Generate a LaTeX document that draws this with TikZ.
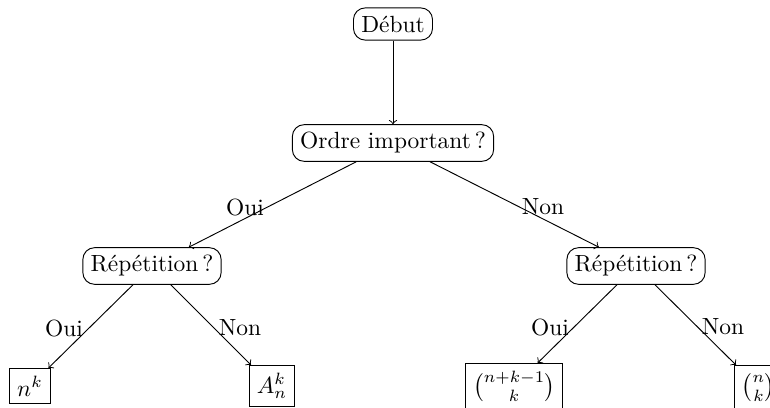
\documentclass[tikz,border=0pt]{standalone}
\usepackage{amsmath}
\begin{document}
\begin{tikzpicture}[x=0.427pt,y=-0.427pt,
  decision/.style={draw,rounded corners=5pt,inner sep=3.33pt},
  leaf/.style={draw,inner sep=3.33pt,anchor=north},
  lbl/.style={inner sep=0pt},
  edge/.style={->}]
\useasboundingbox (0,0) rectangle (770,407);
\clip (0,0) rectangle (770,407);
\node[decision] (debut) at (393,24) {Début};
\node[decision] (ordre) at (393,143) {Ordre important\,?};
\node[decision] (repL) at (152,266) {Répétition\,?};
\node[decision] (repR) at (636,266) {Répétition\,?};
\node[leaf] (nk) at (30,368) {$n^k$};
\node[leaf] (ank) at (272,365) {$A_n^k$};
\node[leaf] (bin1) at (514,363) {$\binom{n+k-1}{k}$};
\node[leaf] (bin2) at (758.5,365) {$\binom{n}{k}$};
\draw[edge] (debut) -- (ordre);
\draw[edge] (ordre) -- (repL);
\draw[edge] (ordre) -- (repR);
\draw[edge] (repL) -- (nk);
\draw[edge] (repL) -- (ank);
\draw[edge] (repR) -- (bin1);
\draw[edge] (repR) -- (bin2);
\node[lbl] (l1) at (245,207) {Oui};
\node[lbl] (l2) at (543,207) {Non};
\node[lbl] (l3) at (64,328) {Oui};
\node[lbl] (l4) at (240,328) {Non};
\node[lbl] (l5) at (550,327) {Oui};
\node[lbl] (l6) at (723,327) {Non};
\end{tikzpicture}
\end{document}
